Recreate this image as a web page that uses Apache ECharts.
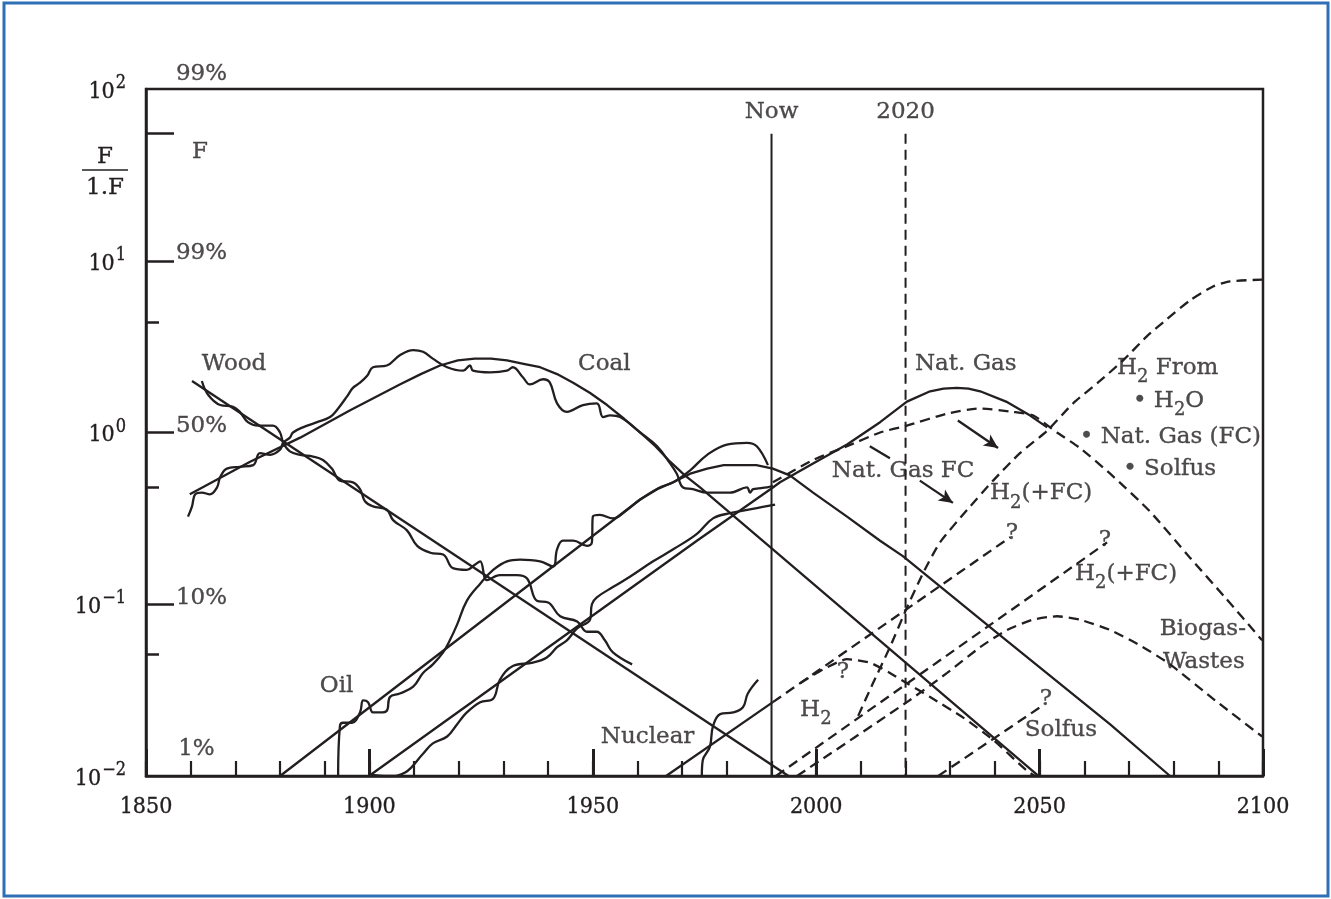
<!DOCTYPE html>
<html>
<head>
<meta charset="utf-8">
<script src="https://cdn.jsdelivr.net/npm/echarts@6/dist/echarts.min.js"></script>
<style>html,body{margin:0;padding:0;background:#fff}#c{width:1331px;height:899px}</style>
</head>
<body>
<div id="c"></div>
<script>
// ---- DATA: [year, log10(F/(1-F))] ----
const xTickYears = [1850, 1900, 1950, 2000, 2050, 2100];
const yDecades = [-2, -1, 0, 1, 2];

const woodFit = [[1860.3,0.30],[1993.8,-2.0]];
const woodData = [[1862.5,0.30],[1863.9,0.22],[1866.6,0.16],[1869.5,0.15],[1871.0,0.12],[1872.8,0.06],[1875.1,0.04],[1878.4,0.04],[1880.0,0.00],[1880.7,-0.06],[1882.2,-0.11],[1884.5,-0.13],[1887.4,-0.14],[1889.6,-0.16],[1891.6,-0.21],[1893.4,-0.28],[1896.3,-0.29],[1897.9,-0.33],[1899.0,-0.40],[1900.8,-0.43],[1903.9,-0.45],[1905.3,-0.51],[1908.4,-0.57],[1910.7,-0.66],[1913.6,-0.70],[1916.5,-0.71],[1918.7,-0.79],[1921.8,-0.80],[1923.6,-0.77],[1924.8,-0.75],[1926.3,-0.86],[1929.2,-0.83],[1933.0,-0.83],[1935.3,-0.85],[1937.5,-0.98],[1940.0,-0.99],[1942.7,-1.07],[1946.5,-1.10],[1948.7,-1.16],[1950.9,-1.16],[1952.7,-1.21],[1954.5,-1.28],[1958.8,-1.35]];

const coalFit = [[1859.8,-0.36],[1873.3,-0.17],[1884.5,-0.03],[1895.7,0.13],[1906.8,0.28],[1911.5,0.34],[1915.8,0.39],[1919.8,0.42],[1923.6,0.43],[1927.2,0.43],[1930.8,0.42],[1934.5,0.40],[1938.2,0.38],[1942.0,0.34],[1945.6,0.29],[1949.4,0.23],[1953.2,0.16],[1957.0,0.08],[1960.6,0.00],[1964.0,-0.08],[1967.3,-0.17],[1970.6,-0.25],[1974.0,-0.32],[1990.3,-0.68],[2049.8,-2.0]];
const coalData = [[1859.4,-0.49],[1860.3,-0.43],[1861.0,-0.36],[1862.5,-0.35],[1864.3,-0.36],[1865.9,-0.32],[1866.6,-0.26],[1868.1,-0.21],[1871.0,-0.20],[1874.0,-0.19],[1875.5,-0.12],[1877.8,-0.13],[1880.0,-0.10],[1880.7,-0.06],[1882.2,-0.03],[1882.9,0.00],[1885.1,0.03],[1888.3,0.06],[1891.2,0.09],[1892.7,0.13],[1895.0,0.21],[1896.3,0.26],[1897.9,0.29],[1899.5,0.33],[1900.8,0.38],[1903.9,0.39],[1906.8,0.45],[1909.8,0.48],[1912.0,0.47],[1914.2,0.43],[1917.4,0.38],[1921.0,0.36],[1922.5,0.39],[1923.2,0.36],[1927.0,0.35],[1930.8,0.36],[1932.1,0.38],[1934.4,0.32],[1935.9,0.28],[1938.9,0.31],[1940.4,0.29],[1942.0,0.17],[1944.2,0.12],[1947.8,0.16],[1950.9,0.17],[1952.3,0.09],[1953.9,0.10],[1956.1,0.09],[1960.6,0.00],[1964.4,-0.08],[1967.3,-0.18],[1968.8,-0.24],[1970.2,-0.32],[1972.4,-0.33],[1975.6,-0.35],[1980.7,-0.35],[1984.5,-0.32],[1985.2,-0.35],[1985.9,-0.33],[1989.0,-0.32],[1990.3,-0.31]];

const oilFit = [[1880.0,-2.0],[1960.6,-0.39],[1964.4,-0.33],[1968.0,-0.29],[1971.8,-0.24],[1975.6,-0.21],[1979.3,-0.19],[1982.9,-0.19],[1986.6,-0.19],[1990.3,-0.21],[1994.1,-0.25],[1999.3,-0.35],[2006.9,-0.49],[2014.3,-0.63],[2019.4,-0.72],[2041.1,-1.18],[2065.8,-1.70],[2079.2,-2.0]];
const oilData = [[1893.0,-2.0],[1893.4,-1.71],[1894.1,-1.69],[1896.1,-1.69],[1897.9,-1.63],[1898.6,-1.56],[1899.7,-1.57],[1900.8,-1.63],[1902.4,-1.63],[1903.9,-1.62],[1904.6,-1.54],[1906.8,-1.52],[1909.8,-1.48],[1912.0,-1.40],[1914.2,-1.35],[1916.5,-1.28],[1918.0,-1.21],[1919.6,-1.12],[1921.8,-0.98],[1924.8,-0.88],[1927.7,-0.80],[1930.8,-0.75],[1933.7,-0.74],[1938.2,-0.75],[1941.1,-0.78],[1942.0,-0.68],[1943.3,-0.63],[1945.6,-0.63],[1948.7,-0.66],[1949.8,-0.64],[1950.0,-0.49],[1951.6,-0.48],[1954.5,-0.50],[1957.7,-0.45],[1960.6,-0.39],[1965.0,-0.32],[1968.0,-0.29],[1971.8,-0.22],[1975.6,-0.13],[1980.0,-0.07],[1984.5,-0.06],[1986.7,-0.08],[1989.2,-0.19]];

const natGasFit = [[1899.9,-2.0],[1973.3,-0.63],[1990.3,-0.32],[1991.9,-0.29],[1999.3,-0.18],[2006.9,-0.07],[2014.3,0.06],[2020.3,0.18],[2025.5,0.24],[2028.5,0.255],[2031.5,0.26],[2034.1,0.255],[2036.7,0.24],[2042.5,0.18],[2047.8,0.10],[2051.7,0.03]];
const natGasData = [[1899.9,-1.99],[1904.2,-2.0],[1908.0,-1.98],[1912.0,-1.87],[1914.2,-1.81],[1917.4,-1.77],[1919.6,-1.70],[1921.8,-1.63],[1924.8,-1.57],[1927.7,-1.55],[1929.2,-1.44],[1932.1,-1.36],[1936.6,-1.34],[1939.7,-1.31],[1942.0,-1.25],[1944.2,-1.21],[1946.5,-1.14],[1949.4,-1.09],[1949.8,-1.00],[1950.9,-0.96],[1954.5,-0.90],[1958.3,-0.84],[1963.5,-0.75],[1968.0,-0.68],[1973.3,-0.59],[1976.9,-0.50],[1980.7,-0.47],[1986.7,-0.44],[1990.8,-0.42]];

const nuclearFit = [[1966.4,-2.0],[1990.3,-1.57]];
const nuclearData = [[1974.4,-2.0],[1974.6,-1.91],[1976.2,-1.83],[1976.9,-1.71],[1978.5,-1.64],[1981.4,-1.63],[1983.6,-1.60],[1984.7,-1.52],[1987.0,-1.44]];
const nuclearProjection = [[1990.3,-1.57],[2043.4,-0.61]];

const natGasFC = [[1990.3,-0.29],[1999.3,-0.16],[2006.9,-0.08],[2014.3,0.00],[2020.3,0.04],[2029.3,0.11],[2036.7,0.14],[2044.0,0.12],[2048.5,0.10],[2053.9,0.00],[2059.0,-0.09],[2065.8,-0.24],[2074.7,-0.46],[2083.7,-0.73],[2091.5,-0.96],[2099.8,-1.21]];
const h2Line = [[1991.0,-2.0],[2065.1,-0.64]];
const h2FromAll = [[2009.4,-1.65],[2012.7,-1.46],[2016.5,-1.25],[2020.3,-1.02],[2023.9,-0.82],[2027.7,-0.64],[2033.8,-0.45],[2039.6,-0.28],[2045.6,-0.12],[2051.7,0.01],[2057.5,0.17],[2063.5,0.30],[2068.7,0.42],[2074.0,0.56],[2078.5,0.66],[2083.7,0.77],[2088.8,0.85],[2092.6,0.88],[2099.8,0.89]];
const h2Arc = [[1996.4,-1.46],[2001.5,-1.38],[2006.9,-1.32],[2012.0,-1.34],[2016.5,-1.40],[2020.3,-1.46],[2025.5,-1.54],[2032.9,-1.66],[2039.6,-1.79],[2047.2,-1.97],[2049.0,-2.0]];
const biogas = [[1995.7,-2.0],[2020.3,-1.57],[2029.3,-1.40],[2036.7,-1.25],[2042.7,-1.15],[2048.5,-1.09],[2053.9,-1.07],[2059.0,-1.09],[2065.8,-1.15],[2072.5,-1.24],[2079.2,-1.35],[2089.3,-1.56],[2099.8,-1.77]];
const solfus = [[2027.3,-2.0],[2050.1,-1.60]];

const nowLine = [[1990,1.74],[1990,-2]];
const line2020 = [[2020,1.74],[2020,-2]];
const pointer = [[2012.0,-0.08],[2016.5,-0.15]];
const arrows = [[[2031.7,0.07],[2040.7,-0.09]], [[2023.2,-0.28],[2030.6,-0.41]]];

// ticks on left axis
const longTickValues = [1.74, 1, 0, -1];
const shortTickValues = [0.64, -0.32, -1.29];

// text notes: [year, log, text, align]
const notes = [
  [1862.5, 0.39, '{t|Wood}', 'left'],
  [1946.7, 0.39, '{t|Coal}', 'left'],
  [1888.9, -1.48, '{t|Oil}', 'left'],
  [1951.8, -1.78, '{t|Nuclear}', 'left'],
  [1990.0, 1.86, '{t|Now}', 'center'],
  [2020.0, 1.86, '{t|2020}', 'center'],
  [2022.1, 0.39, '{t|Nat. Gas}', 'left'],
  [2003.5, -0.23, '{t|Nat. Gas FC}', 'left'],
  [2038.9, -0.36, '{t|H}{s|2}{t|(+FC)}', 'left'],
  [2043.8, -0.59, '{t|?}', 'center'],
  [2064.6, -0.63, '{t|?}', 'center'],
  [2057.9, -0.83, '{t|H}{s|2}{t|(+FC)}', 'left'],
  [2067.3, 0.37, '{t|H}{s|2}{t| From}', 'left'],
  [2070.9, 0.18, '{t|• H}{s|2}{t|O}', 'left'],
  [2059.0, -0.03, '{t|• Nat. Gas (FC)}', 'left'],
  [2068.7, -0.22, '{t|• Solfus}', 'left'],
  [2076.9, -1.15, '{t|Biogas-}', 'left'],
  [2077.6, -1.34, '{t|Wastes}', 'left'],
  [2006.0, -1.40, '{t|?}', 'center'],
  [1996.4, -1.62, '{t|H}{s|2}', 'left'],
  [2051.4, -1.56, '{t|?}', 'center'],
  [2046.7, -1.74, '{t|Solfus}', 'left'],
  [1857.2, -1.85, '{t|1%}', 'left'],
  [1856.7, 2.08, '{t|99%}', 'left'],
  [1860.3, 1.63, '{t|F}', 'left'],
  [1856.7, 1.04, '{t|99%}', 'left'],
  [1856.7, 0.03, '{t|50%}', 'left'],
  [1856.7, -0.97, '{t|10%}', 'left']
];

// ---- STYLE ----
const FONT = '"DejaVu Serif",serif';
const FONT_AXIS = '"DejaVu Serif Condensed","DejaVu Serif",serif';
const INK = '#231f20';
const LW = 2.3;
const DASH = [10, 6];
const TB = { textBorderColor: INK, textBorderWidth: 0.35 };

function ln(name, data, opts) {
  opts = opts || {};
  return {
    name: name, type: 'line', data: data, symbol: 'none', showSymbol: false,
    silent: true, animation: false, clip: true,
    smooth: opts.smooth || false,
    lineStyle: { color: INK, width: opts.width || LW, type: opts.dashed ? DASH : 'solid' },
    z: 3
  };
}

const rich = {
  t: Object.assign({ fontSize: 23, fontFamily: FONT, color: INK, verticalAlign: 'top', lineHeight: 25 }, TB),
  s: Object.assign({ fontSize: 18, fontFamily: FONT, color: INK, verticalAlign: 'top', padding: [12, 0, 0, 0], lineHeight: 20 }, TB)
};

const noteSeries = {
  name: 'notes', type: 'scatter', symbolSize: 0, clip: false, silent: true, animation: false,
  data: notes.map(n => ({
    value: [n[0], n[1]],
    label: { show: true, position: 'inside', formatter: n[2], align: n[3], verticalAlign: 'middle', rich: rich }
  })),
  markLine: {
    silent: true, animation: false,
    symbol: ['none', 'arrow'], symbolSize: [10, 14],
    lineStyle: { color: INK, width: LW, type: 'solid' },
    label: { show: false },
    data: arrows.map(a => [{ coord: a[0] }, { coord: a[1] }]).concat([
      [{ coord: pointer[0], symbol: 'none' }, { coord: pointer[1], symbol: 'none' }]
    ])
  },
  z: 5
};

const chart = echarts.init(document.getElementById('c'), null, { renderer: 'canvas' });

chart.setOption({
  animation: false,
  backgroundColor: '#ffffff',
  grid: { left: 146, right: 68, top: 89, bottom: 123, show: true, borderColor: INK, borderWidth: 2.5, backgroundColor: 'transparent' },
  xAxis: [
    {
      type: 'value', min: 1850, max: 2100, interval: 10,
      axisLine: { show: true, onZero: false, lineStyle: { color: INK, width: 2.5 } },
      axisTick: { show: true, inside: true, length: 15, lineStyle: { color: INK, width: 2.2 } },
      axisLabel: { show: false },
      splitLine: { show: false }
    },
    {
      type: 'value', min: 1850, max: 2100, interval: 50, position: 'bottom',
      axisLine: { show: false, onZero: false },
      axisTick: { show: true, inside: true, length: 27, lineStyle: { color: INK, width: 3 } },
      axisLabel: Object.assign({ show: true, margin: 20, fontSize: 23, fontFamily: FONT_AXIS, color: INK,
        formatter: v => xTickYears.indexOf(v) >= 0 ? String(v) : '' }, TB),
      splitLine: { show: false }
    }
  ],
  yAxis: [
    {
      type: 'value', min: -2, max: 2, interval: 1,
      axisLine: { show: true, onZero: false, lineStyle: { color: INK, width: 2.5 } },
      axisTick: { show: true, inside: true, length: 28, customValues: longTickValues, lineStyle: { color: INK, width: 2.5 } },
      axisLabel: {
        show: true, margin: 20,
        formatter: v => {
          const e = Math.round(v);
          if (yDecades.indexOf(e) < 0) return '';
          const s = e < 0 ? '\u2212' + (-e) : String(e);
          return '{b|10}{p|' + s + '}';
        },
        rich: {
          b: Object.assign({ fontSize: 23, fontFamily: FONT_AXIS, color: INK, verticalAlign: 'bottom' }, TB),
          p: Object.assign({ fontSize: 18, fontFamily: FONT_AXIS, color: INK, verticalAlign: 'bottom', padding: [0, 0, 11, 1] }, TB)
        }
      },
      splitLine: { show: false }
    },
    {
      type: 'value', min: -2, max: 2, interval: 1, position: 'left',
      axisLine: { show: false, onZero: false },
      axisTick: { show: true, inside: true, length: 13, customValues: shortTickValues, lineStyle: { color: INK, width: 2.5 } },
      axisLabel: { show: false },
      splitLine: { show: false }
    }
  ],
  graphic: [
    { type: 'rect', z: 100, silent: true, shape: { x: 4, y: 3, width: 1324, height: 893 }, style: { fill: 'none', stroke: '#2f6fb6', lineWidth: 3 } },
    { type: 'text', silent: true, x: 105, y: 157, style: { text: 'F', font: '23px ' + FONT, fill: INK, stroke: INK, lineWidth: 0.35, align: 'center', verticalAlign: 'middle' } },
    { type: 'line', silent: true, shape: { x1: 82, y1: 170, x2: 128, y2: 170 }, style: { stroke: INK, lineWidth: 1.5 } },
    { type: 'text', silent: true, x: 105, y: 188, style: { text: '1.F', font: '23px ' + FONT, fill: INK, stroke: INK, lineWidth: 0.35, align: 'center', verticalAlign: 'middle' } }
  ],
  series: [
    ln('Wood fit', woodFit),
    ln('Wood data', woodData, { smooth: 0.4 }),
    ln('Coal fit', coalFit),
    ln('Coal data', coalData, { smooth: 0.4 }),
    ln('Oil fit', oilFit),
    ln('Oil data', oilData, { smooth: 0.4 }),
    ln('Nat. Gas fit', natGasFit),
    ln('Nat. Gas data', natGasData, { smooth: 0.4 }),
    ln('Nuclear fit', nuclearFit),
    ln('Nuclear data', nuclearData, { smooth: 0.4 }),
    ln('Nuclear projection', nuclearProjection, { dashed: true }),
    ln('Nat. Gas FC', natGasFC, { dashed: true, smooth: 0.2 }),
    ln('H2 (+FC)', h2Line, { dashed: true }),
    ln('H2 From', h2FromAll, { dashed: true, smooth: 0.2 }),
    ln('H2', h2Arc, { dashed: true, smooth: 0.2 }),
    ln('Biogas-Wastes', biogas, { dashed: true, smooth: 0.2 }),
    ln('Solfus', solfus, { dashed: true }),
    ln('Now', nowLine, { width: 2 }),
    ln('2020', line2020, { dashed: true, width: 2 }),
    noteSeries
  ]
});
</script>
</body>
</html>
